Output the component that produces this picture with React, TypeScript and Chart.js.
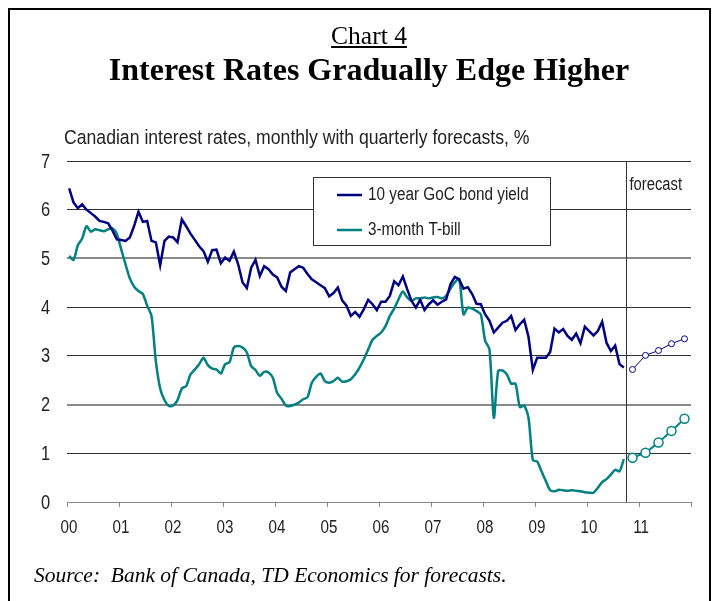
import React, { useEffect, useRef } from "react";
import { Chart, registerables } from "chart.js";

Chart.register(...registerables);

// Monthly data, Jan 2000 - Sep 2010
const bondYield: number[] = [
  6.44, 6.15, 6.03, 6.11, 6.0, 5.93, 5.86, 5.77, 5.75, 5.72, 5.57, 5.39,
  5.38, 5.36, 5.43, 5.67, 5.96, 5.75, 5.77, 5.36, 5.33, 4.86, 5.36, 5.45,
  5.43, 5.33, 5.8, 5.66, 5.51, 5.38, 5.25, 5.15, 4.93, 5.17, 5.18, 4.9,
  5.02, 4.95, 5.14, 4.88, 4.51, 4.39, 4.81, 4.97, 4.64, 4.84, 4.78, 4.67,
  4.61, 4.42, 4.33, 4.71, 4.78, 4.84, 4.81, 4.68, 4.57, 4.51, 4.45, 4.39,
  4.22, 4.29, 4.4, 4.14, 4.03, 3.82, 3.9, 3.8, 3.96, 4.15, 4.06, 3.94,
  4.11, 4.11, 4.23, 4.53, 4.45, 4.63, 4.37, 4.13, 3.99, 4.15, 3.94, 4.06,
  4.14, 4.05, 4.11, 4.16, 4.47, 4.62, 4.57, 4.38, 4.41, 4.27, 4.07, 4.06,
  3.85, 3.72, 3.48, 3.58, 3.68, 3.72, 3.82, 3.53, 3.65, 3.74, 3.39, 2.71,
  2.96, 2.96, 2.96, 3.08, 3.56, 3.48, 3.55, 3.41, 3.33, 3.46, 3.26, 3.6,
  3.51, 3.42, 3.51, 3.7, 3.27, 3.1, 3.21, 2.83, 2.76,
];

const tBill: number[] = [
  5.05, 4.97, 5.27, 5.41, 5.66, 5.55, 5.6, 5.58, 5.56, 5.6, 5.62, 5.5,
  5.19, 4.88, 4.59, 4.42, 4.33, 4.27, 4.03, 3.82, 2.89, 2.33, 2.09, 1.97,
  1.98, 2.09, 2.33, 2.38, 2.62, 2.72, 2.83, 2.96, 2.81, 2.74, 2.72, 2.64,
  2.83, 2.87, 3.17, 3.2, 3.17, 3.07, 2.79, 2.71, 2.59, 2.67, 2.66, 2.55,
  2.24, 2.12, 1.98, 1.97, 2.0, 2.04, 2.11, 2.15, 2.45, 2.57, 2.64, 2.48,
  2.45, 2.48, 2.55, 2.47, 2.48, 2.52, 2.62, 2.76, 2.93, 3.13, 3.33, 3.41,
  3.48, 3.61, 3.82, 3.97, 4.16, 4.32, 4.2, 4.13, 4.18, 4.18, 4.2, 4.18,
  4.2, 4.21, 4.18, 4.23, 4.38, 4.51, 4.58, 3.85, 3.99, 3.97, 3.92, 3.85,
  3.31, 3.13, 1.73, 2.69, 2.7, 2.62, 2.43, 2.43, 1.95, 1.98, 1.73, 0.86,
  0.83, 0.63, 0.43, 0.24, 0.22, 0.25, 0.24, 0.23, 0.24, 0.23, 0.22, 0.2,
  0.19, 0.19, 0.29, 0.41, 0.47, 0.56, 0.66, 0.63, 0.88,
];

// Quarterly forecasts (mid-quarter, Q4 2010 - Q4 2011)
const forecastDates: number[] = [2010.875, 2011.125, 2011.375, 2011.625, 2011.875];
const bondForecast: number[] = [2.72, 3.01, 3.11, 3.25, 3.35];
const tBillForecast: number[] = [0.91, 1.01, 1.22, 1.46, 1.71];

const yearLabels: string[] = ["00", "01", "02", "03", "04", "05", "06", "07", "08", "09", "10", "11"];
const legendLabels: string[] = ["10 year GoC bond yield", "3-month T-bill"];
const forecastStart = 2010.75;

const BOND = "#000080";
const TBILL = "#008080";
const SANS = "'Liberation Sans', Arial, sans-serif";
const SERIF = "'Liberation Serif', 'Times New Roman', serif";
const NARROW = 0.82;

const monthly = (arr: number[]) => arr.map((v, i) => ({ x: 2000 + (i + 0.5) / 12, y: v }));
const quarterly = (arr: number[]) => arr.map((v, i) => ({ x: forecastDates[i], y: v }));

function narrowText(ctx: any, text: string, x: number, y: number, size: number, align: string, squeeze = NARROW) {
  ctx.save();
  ctx.translate(x, y);
  ctx.scale(squeeze, 1);
  ctx.font = `${size}px ${SANS}`;
  ctx.textAlign = align;
  ctx.textBaseline = "middle";
  ctx.fillStyle = "#222";
  ctx.fillText(text, 0, 0);
  ctx.restore();
}

const overlayPlugin = {
  id: "overlay",
  afterDatasetsDraw(chart: any) {
    const { ctx, chartArea, scales } = chart;
    ctx.save();
    // axis tick labels (narrow face), positioned by the library's scales
    scales.y.ticks.forEach((t: any) => {
      narrowText(ctx, String(t.value), 50, scales.y.getPixelForValue(t.value) + 1, 20, "right");
    });
    scales.x.ticks.forEach((t: any) => {
      const i = Math.round(t.value - 2000);
      if (i >= 0 && i < yearLabels.length) {
        narrowText(ctx, yearLabels[i], scales.x.getPixelForValue(t.value) + 2, 528, 18.5, "center");
      }
    });

    // forecast divider
    const fx = Math.round(scales.x.getPixelForValue(forecastStart)) + 0.5;
    ctx.strokeStyle = "#333";
    ctx.lineWidth = 1;
    ctx.beginPath();
    ctx.moveTo(fx, chartArea.top);
    ctx.lineTo(fx, chartArea.bottom);
    ctx.stroke();
    narrowText(ctx, "forecast", fx + 3, 185, 18, "left");

    // legend box
    const lx = 313, ly = 177, lw = 238, lh = 69;
    ctx.fillStyle = "#fff";
    ctx.fillRect(lx, ly, lw, lh);
    ctx.strokeStyle = "#333";
    ctx.lineWidth = 1;
    ctx.strokeRect(lx + 0.5, ly + 0.5, lw - 1, lh - 1);
    const colors = [BOND, TBILL];
    const rows = [195, 230];
    legendLabels.forEach((lab, i) => {
      ctx.strokeStyle = colors[i];
      ctx.lineWidth = 2.5;
      ctx.beginPath();
      ctx.moveTo(337, rows[i]);
      ctx.lineTo(362, rows[i]);
      ctx.stroke();
      narrowText(ctx, lab, 368, rows[i], 18, "left", 0.85);
    });
    ctx.restore();
  },
};

export default function App() {
  const ref = useRef<HTMLCanvasElement | null>(null);

  useEffect(() => {
    if (!ref.current) return;
    const chart = new Chart(ref.current, {
      type: "line",
      data: {
        datasets: [
          {
            label: legendLabels[0],
            data: monthly(bondYield),
            borderColor: BOND,
            borderWidth: 2.5,
            pointRadius: 0,
            tension: 0,
          },
          {
            label: legendLabels[1],
            data: monthly(tBill),
            borderColor: TBILL,
            borderWidth: 2.5,
            pointRadius: 0,
            tension: 0.25,
          },
          {
            label: "bond forecast",
            data: quarterly(bondForecast),
            borderColor: BOND,
            borderWidth: 1,
            pointRadius: 3,
            pointBackgroundColor: "#fff",
            pointBorderColor: BOND,
            pointBorderWidth: 1,
          },
          {
            label: "t-bill forecast",
            data: quarterly(tBillForecast),
            borderColor: TBILL,
            borderWidth: 2,
            pointRadius: 4.5,
            pointBackgroundColor: "#fff",
            pointBorderColor: TBILL,
            pointBorderWidth: 1.5,
          },
        ],
      },
      options: {
        animation: false,
        responsive: false,
        devicePixelRatio: 1,
        layout: { padding: { left: 0, top: 161, right: 28, bottom: 59 } },
        plugins: { legend: { display: false }, tooltip: { enabled: false } },
        scales: {
          x: {
            type: "linear",
            min: 2000,
            max: 2012,
            ticks: { stepSize: 1, autoSkip: false, maxRotation: 0, display: false },
            grid: { drawOnChartArea: false, drawTicks: true, tickLength: 5, color: "#888" },
            border: { display: true, color: "#888", width: 1 },
            afterFit: (s: any) => {
              s.height = 40;
            },
          },
          y: {
            min: 0,
            max: 7,
            ticks: { stepSize: 1, display: false },
            grid: {
              drawTicks: false,
              color: (c: any) => (c.tick && (c.tick.value === 2 || c.tick.value === 5) ? "#8a8a8a" : "#333"),
              lineWidth: (c: any) => (c.tick && (c.tick.value === 2 || c.tick.value === 5) ? 2 : 1),
            },
            border: { display: false },
            afterFit: (s: any) => {
              s.width = 67;
            },
          },
        },
      },
      plugins: [overlayPlugin],
    } as any);
    return () => chart.destroy();
  }, []);

  return (
    <div
      style={{
        position: "relative",
        width: 703,
        height: 593,
        boxSizing: "border-box",
        borderLeft: "2px solid #000",
        borderTop: "2px solid #000",
        borderRight: "2px solid #000",
        overflow: "visible",
      }}
    >
      <canvas
        ref={ref}
        width={719}
        height={601}
        style={{ position: "absolute", left: -10, top: -10, width: 719, height: 601 }}
      />
      <div
        style={{
          position: "absolute",
          left: 0,
          width: 718,
          top: 13,
          textAlign: "center",
          fontFamily: SERIF,
          fontSize: 25.5,
          lineHeight: "25px",
          color: "#000",
        }}
      >
        <span style={{ textDecoration: "underline" }}>Chart 4</span>
      </div>
      <div
        style={{
          position: "absolute",
          left: 0,
          width: 718,
          top: 43,
          textAlign: "center",
          fontFamily: SERIF,
          fontSize: 32,
          fontWeight: "bold",
          lineHeight: "32px",
          color: "#000",
        }}
      >
        Interest Rates Gradually Edge Higher
      </div>
      <div
        style={{
          position: "absolute",
          left: 54,
          top: 117,
          fontFamily: SANS,
          fontSize: 20.5,
          lineHeight: "20.5px",
          color: "#222",
          whiteSpace: "nowrap",
          transform: "scaleX(0.86)",
          transformOrigin: "left center",
        }}
      >
        Canadian interest rates, monthly with quarterly forecasts, %
      </div>
      <div
        style={{
          position: "absolute",
          left: 24,
          top: 555,
          fontFamily: SERIF,
          fontStyle: "italic",
          fontSize: 21.5,
          lineHeight: "21.5px",
          color: "#000",
          whiteSpace: "pre",
        }}
      >
        {"Source:  Bank of Canada, TD Economics for forecasts."}
      </div>
    </div>
  );
}
